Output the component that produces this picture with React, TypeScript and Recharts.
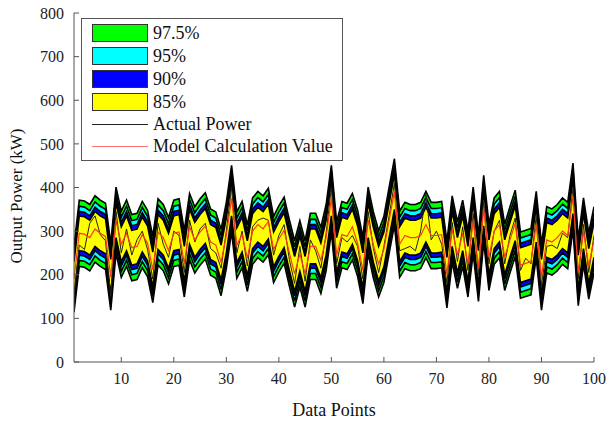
import { ComposedChart, Area, Line, XAxis, YAxis } from "recharts";

// data point index (x), 1..100
const dataPoints = [
  1, 2, 3, 4, 5, 6, 7, 8, 9, 10, 11, 12, 13, 14, 15, 16, 17, 18, 19, 20,
  21, 22, 23, 24, 25, 26, 27, 28, 29, 30, 31, 32, 33, 34, 35, 36, 37, 38, 39, 40,
  41, 42, 43, 44, 45, 46, 47, 48, 49, 50, 51, 52, 53, 54, 55, 56, 57, 58, 59, 60,
  61, 62, 63, 64, 65, 66, 67, 68, 69, 70, 71, 72, 73, 74, 75, 76, 77, 78, 79, 80,
  81, 82, 83, 84, 85, 86, 87, 88, 89, 90, 91, 92, 93, 94, 95, 96, 97, 98, 99, 100,
];

const modelValue = [
  190, 295, 293, 285, 305, 295, 288, 195, 325, 270, 295, 262, 265, 292, 272, 212, 298, 285, 255, 295,
  298, 225, 310, 280, 298, 312, 275, 268, 228, 290, 375, 268, 292, 238, 300, 315, 305, 322, 258, 282,
  302, 250, 202, 248, 202, 265, 265, 233, 285, 375, 245, 292, 288, 310, 272, 210, 325, 268, 225, 258,
  325, 390, 270, 290, 285, 285, 290, 315, 290, 290, 292, 200, 305, 245, 295, 225, 325, 215, 352, 240,
  300, 315, 240, 280, 318, 222, 226, 230, 315, 195, 280, 275, 285, 300, 290, 380, 205, 300, 220, 280,
];

// actual power (kW), black line
const actualPower = [
  150, 268, 258, 318, 335, 292, 278, 150, 345, 250, 305, 245, 280, 300, 258, 190, 318, 270, 240, 300,
  290, 205, 325, 275, 305, 318, 260, 250, 215, 300, 400, 250, 300, 220, 310, 325, 330, 325, 245, 290,
  315, 235, 180, 265, 185, 280, 255, 215, 295, 400, 225, 285, 275, 290, 265, 190, 345, 260, 205, 265,
  335, 410, 255, 260, 265, 255, 300, 385, 280, 300, 270, 180, 320, 230, 310, 210, 340, 200, 370, 225,
  300, 325, 225, 290, 330, 210, 238, 225, 335, 175, 265, 268, 260, 295, 285, 400, 190, 315, 205, 290,
];

// confidence levels and their half widths around the model value (kW)
const bandLevels = ["97.5%", "95%", "90%", "85%"];
const bandHalfWidth = [76, 62, 50, 40];

const xTicks = [10, 20, 30, 40, 50, 60, 70, 80, 90, 100];
const yTicks = [0, 100, 200, 300, 400, 500, 600, 700, 800];

const bandColors = ["#00ff00", "#00ffff", "#0000ff", "#ffff00"];
const axisColor = "#555";
const font = "'Liberation Serif', 'Times New Roman', serif";

const data = dataPoints.map((p, i) => {
  const row: any = { point: p, actual: actualPower[i], model: modelValue[i] };
  bandHalfWidth.forEach((w, k) => {
    row["band" + k] = [modelValue[i] - w, modelValue[i] + w];
  });
  return row;
});

const tickStyle = { fill: "#222", fontSize: 16 };

const LegendBox = () => (
  <div
    style={{
      position: "absolute",
      left: 81,
      top: 18,
      width: 262,
      height: 143,
      border: "1px solid #555",
      background: "#fff",
      fontSize: 18,
      color: "#111",
      boxSizing: "border-box",
    }}
  >
    {bandLevels.map((lvl, k) => (
      <div key={lvl} style={{ position: "absolute", left: 10, top: 5 + k * 23, height: 18, display: "flex", alignItems: "center" }}>
        <div style={{ width: 54, height: 16, background: bandColors[k], border: "1px solid #333" }} />
        <span style={{ marginLeft: 5, lineHeight: "18px" }}>{lvl}</span>
      </div>
    ))}
    {[
      { name: "Actual Power", color: "#222" },
      { name: "Model Calculation Value", color: "#ff7070" },
    ].map((it, k) => (
      <div key={it.name} style={{ position: "absolute", left: 10, top: 96 + k * 22, height: 18, display: "flex", alignItems: "center" }}>
        <div style={{ width: 56, height: 0, borderTop: `1.5px solid ${it.color}` }} />
        <span style={{ marginLeft: 5, lineHeight: "18px" }}>{it.name}</span>
      </div>
    ))}
  </div>
);

export default function App() {
  return (
    <div style={{ position: "absolute", left: 0, top: 0, width: 607, height: 423, background: "#fff", fontFamily: font }}>
      <style>{`.chart svg text { font-family: 'Liberation Serif', 'Times New Roman', serif !important; }`}</style>
      <div className="chart">
        <ComposedChart
          width={607}
          height={423}
          data={data}
          margin={{ top: 13, right: 13, bottom: 0, left: 0 }}
        >
          <XAxis
            dataKey="point"
            type="number"
            domain={[1, 100]}
            ticks={xTicks}
            height={61}
            stroke={axisColor}
            tick={tickStyle}
            tickSize={-5}
            tickMargin={16}
            allowDataOverflow
            label={({ viewBox }: any) => (
              <text x={viewBox.x + viewBox.width / 2} y={416} textAnchor="middle" fill="#111" fontSize={18}>
                Data Points
              </text>
            )}
          />
          <XAxis xAxisId="top" dataKey="point" type="number" domain={[1, 100]} ticks={xTicks} orientation="top" height={0} stroke={axisColor} tick={false} tickSize={-5} />
          <YAxis
            type="number"
            domain={[0, 800]}
            ticks={yTicks}
            width={74}
            stroke={axisColor}
            tick={tickStyle}
            tickSize={-5}
            tickMargin={15}
            allowDataOverflow
            label={() => (
              <text x={22} y={196} transform="rotate(-90 22 196)" textAnchor="middle" fill="#111" fontSize={17}>
                Output Power (kW)
              </text>
            )}
          />
          <YAxis yAxisId="right" type="number" domain={[0, 800]} ticks={yTicks} orientation="right" width={0} stroke={axisColor} tick={false} tickSize={-5} />
          {bandLevels.map((lvl, k) => (
            <Area
              key={lvl}
              type="linear"
              dataKey={"band" + k}
              name={lvl}
              fill={bandColors[k]}
              fillOpacity={1}
              stroke="#000"
              strokeWidth={1.6}
              dot={false}
              activeDot={false}
              isAnimationActive={false}
            />
          ))}
          <Line type="linear" dataKey="actual" name="Actual Power" stroke="#222" strokeWidth={1} dot={false} isAnimationActive={false} />
          <Line type="linear" dataKey="model" name="Model Calculation Value" stroke="#ff3a1a" strokeWidth={1.2} dot={false} isAnimationActive={false} />
        </ComposedChart>
      </div>
      <LegendBox />
    </div>
  );
}
